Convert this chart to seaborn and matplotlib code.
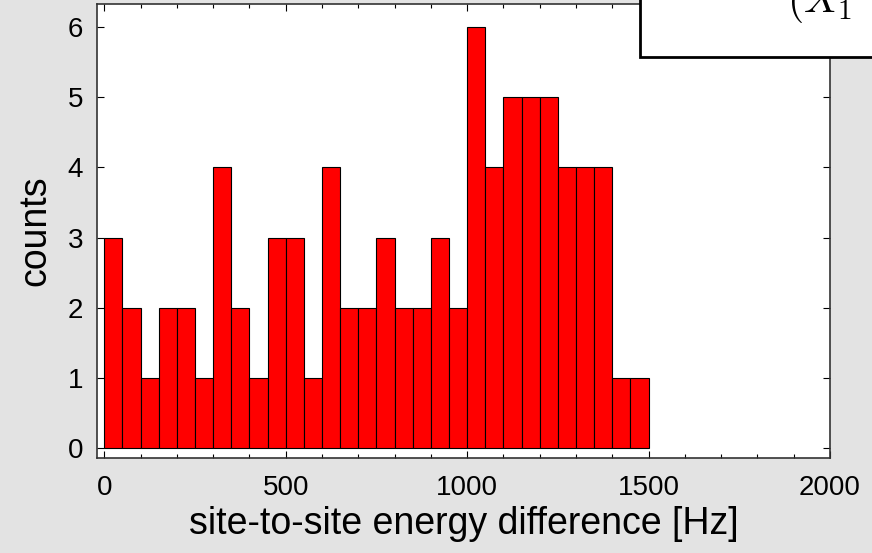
import matplotlib
matplotlib.use("Agg")
import matplotlib.pyplot as plt
import seaborn as sns
import numpy as np
from matplotlib.patches import Rectangle
from matplotlib.ticker import MultipleLocator

# histogram counts, 50 Hz bins from 0 to 1500 Hz
bin_edges = list(range(0, 1501, 50))
counts = [3, 2, 1, 2, 2, 1, 4, 2, 1, 3,
          3, 1, 4, 2, 2, 3, 2, 2, 3, 2,
          6, 4, 5, 5, 5, 4, 4, 4, 1, 1]
x_ticks = [0, 500, 1000, 1500, 2000]
y_ticks = [0, 1, 2, 3, 4, 5, 6]

sns.set_style("ticks")
plt.rcParams['font.family'] = ['Liberation Sans', 'DejaVu Sans']
plt.rcParams['mathtext.fontset'] = 'cm'
plt.rcParams['text.color'] = 'black'
plt.rcParams['axes.labelcolor'] = 'black'
plt.rcParams['xtick.color'] = 'black'
plt.rcParams['ytick.color'] = 'black'

centers = np.array(bin_edges[:-1]) + 25
fig = plt.figure(figsize=(8.72, 5.53), dpi=100, facecolor='#e3e3e3')
ax = fig.add_axes([97 / 872, 1 - 458 / 553, (830 - 97) / 872, (458 - 4) / 553])
sns.histplot(x=centers, weights=counts, bins=bin_edges, color='#ff0000',
             alpha=1, edgecolor='black', linewidth=0.8, ax=ax)

ax.set_xlim(-20, 2000)
ax.set_ylim(-0.14, 6.33)
ax.set_xticks(x_ticks)
ax.set_yticks(y_ticks)
ax.xaxis.set_minor_locator(MultipleLocator(100))
ax.tick_params(direction='in', top=True, right=True, labelsize=20, length=5, width=0.8)
ax.tick_params(axis='x', pad=12)
ax.tick_params(axis='y', pad=10)
ax.tick_params(which='minor', direction='in', top=True, length=3, width=0.8)
for s in ax.spines.values():
    s.set_linewidth(1.2)
    s.set_color('#333333')
ax.set_facecolor('white')
ax.set_xlabel('site-to-site energy difference [Hz]', fontsize=27, labelpad=4)
ax.set_ylabel('counts', fontsize=27, labelpad=10)

# clipped legend/annotation box in the top right corner
fig.patches.append(Rectangle((640 / 872, 1 - 57 / 553), 0.4, 0.2, transform=fig.transFigure,
                             facecolor='white', edgecolor='black', linewidth=2, zorder=5))
fig.text(787 / 872, 1 - 12 / 553, r'$(X_1$', fontsize=30, ha='left', va='baseline', zorder=6)

fig.savefig('out.png', dpi=100, facecolor=fig.get_facecolor())
